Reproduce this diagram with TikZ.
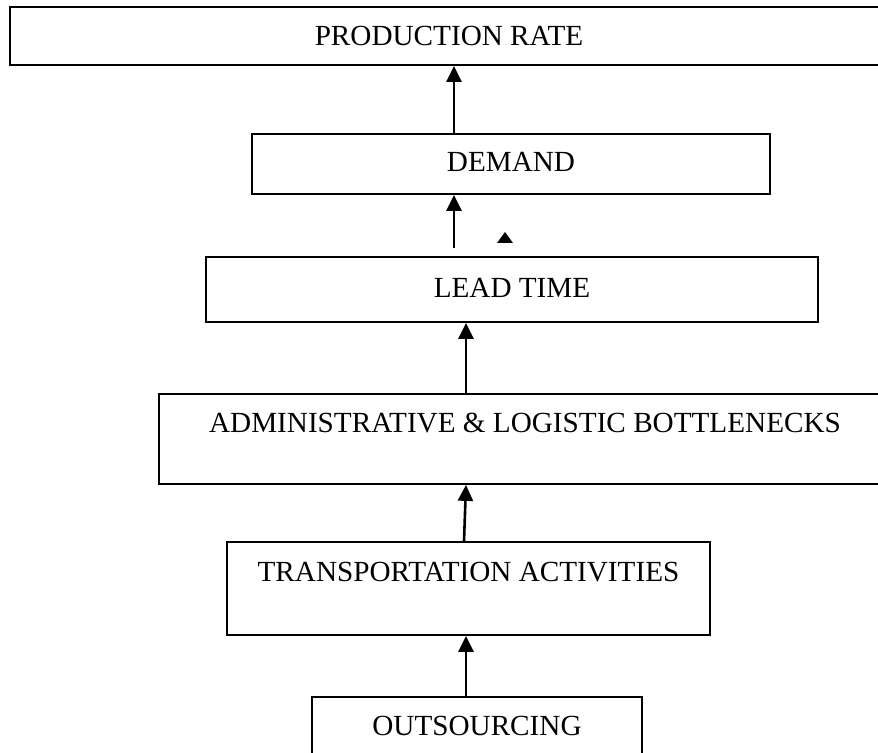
\documentclass[tikz,border=0pt]{standalone}
\usepackage{fontspec}
\setmainfont{Liberation Serif}
\usetikzlibrary{arrows.meta,calc}
\begin{document}
\begin{tikzpicture}[x=0.5pt,y=-0.5pt,
  box/.style={draw=black,line width=0.9pt,inner sep=0pt,minimum height=0pt,anchor=base,
    font=\fontsize{14.6}{17}\selectfont},
  arr/.style={line width=1.3pt,-{Triangle[width=7.5pt,length=8pt]}}]
\fill[white] (0,0) rectangle (878,753);
\clip (0,0) rectangle (878,753);
\node[box,minimum width=439pt,text height=19.5pt,text depth=9.5pt] (prod) at (449,46) {PRODUCTION RATE};
\node[box,minimum width=259pt,text height=19pt,text depth=11pt] (demand) at (511,172) {DEMAND};
\node[box,minimum width=306pt,text height=20.5pt,text depth=12pt] (lead) at (512,298) {LEAD TIME};
\node[box,minimum width=366pt,text height=19.5pt,text depth=25.5pt] (admin) at (525,433) {ADMINISTRATIVE \& LOGISTIC BOTTLENECKS};
\node[box,minimum width=241.5pt,text height=19.5pt,text depth=27pt] (trans) at (468.5,581) {TRANSPORTATION ACTIVITIES};
\node[box,minimum width=165pt,text height=19pt,text depth=15pt] (outs) at (477,735) {OUTSOURCING};
\coordinate (c2) at (454,248);
\draw[arr] (demand.north -| 454,0) -- (prod.south -| 454,0);
\draw[arr] (c2) -- (demand.south -| c2);
\draw[arr] (admin.north -| 466,0) -- (lead.south -| 466,0);
\draw[arr] (trans.north -| 464,0) -- (admin.south -| 466,0);
\draw[arr] (outs.north -| 466,0) -- (trans.south -| 466,0);
\fill (505,232) -- (513,243) -- (497,243) -- cycle;
\end{tikzpicture}
\end{document}
